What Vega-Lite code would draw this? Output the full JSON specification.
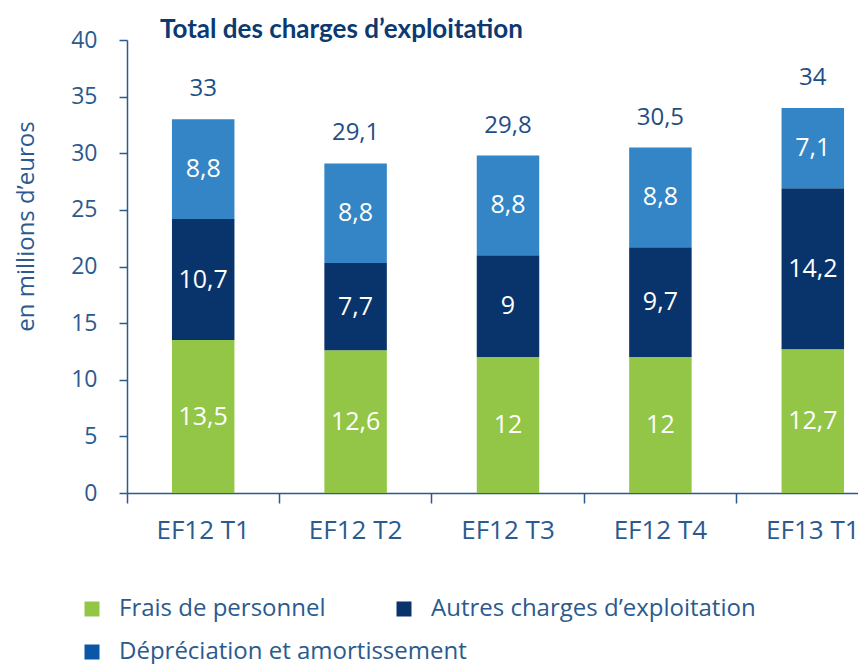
{
  "$schema": "https://vega.github.io/schema/vega-lite/v6.json",
  "width": 731,
  "height": 453,
  "autosize": {"type": "none"},
  "padding": {"left": 127, "top": 40, "right": 0, "bottom": 171},
  "config": {
    "locale": {"number": {"decimal": ",", "thousands": " ", "grouping": [3], "currency": ["", " €"]}},
    "view": {"stroke": null},
    "font": "Open Sans"
  },
  "title": {
    "text": "Total des charges d’exploitation",
    "anchor": "start",
    "frame": "group",
    "dx": 33,
    "dy": 18,
    "offset": 4,
    "font": "Lato",
    "fontSize": 26,
    "fontWeight": "bold",
    "color": "#0b3a72"
  },
  "data": {
    "values": [
      {"periode": "EF12 T1", "cat": "Frais de personnel", "n": 1, "v": 13.5},
      {"periode": "EF12 T1", "cat": "Autres charges d’exploitation", "n": 2, "v": 10.7},
      {"periode": "EF12 T1", "cat": "Dépréciation et amortissement", "n": 3, "v": 8.8},
      {"periode": "EF12 T2", "cat": "Frais de personnel", "n": 1, "v": 12.6},
      {"periode": "EF12 T2", "cat": "Autres charges d’exploitation", "n": 2, "v": 7.7},
      {"periode": "EF12 T2", "cat": "Dépréciation et amortissement", "n": 3, "v": 8.8},
      {"periode": "EF12 T3", "cat": "Frais de personnel", "n": 1, "v": 12},
      {"periode": "EF12 T3", "cat": "Autres charges d’exploitation", "n": 2, "v": 9},
      {"periode": "EF12 T3", "cat": "Dépréciation et amortissement", "n": 3, "v": 8.8},
      {"periode": "EF12 T4", "cat": "Frais de personnel", "n": 1, "v": 12},
      {"periode": "EF12 T4", "cat": "Autres charges d’exploitation", "n": 2, "v": 9.7},
      {"periode": "EF12 T4", "cat": "Dépréciation et amortissement", "n": 3, "v": 8.8},
      {"periode": "EF13 T1", "cat": "Frais de personnel", "n": 1, "v": 12.7},
      {"periode": "EF13 T1", "cat": "Autres charges d’exploitation", "n": 2, "v": 14.2},
      {"periode": "EF13 T1", "cat": "Dépréciation et amortissement", "n": 3, "v": 7.1}
    ]
  },
  "encoding": {
    "x": {
      "field": "periode",
      "type": "nominal",
      "sort": null,
      "scale": {"range": [0, 762], "paddingInner": 0, "paddingOuter": 0},
      "axis": {
        "title": null,
        "labelAngle": 0,
        "labelFontSize": 26,
        "labelColor": "#2b5a8e",
        "labelPadding": 14,
        "bandPosition": 0,
        "tickSize": 10,
        "tickWidth": 1.5,
        "tickColor": "#2b5a8e",
        "domainColor": "#2b5a8e",
        "domainWidth": 1.5
      }
    }
  },
  "layer": [
    {
      "mark": {"type": "bar", "width": {"band": 0.41}},
      "encoding": {
        "y": {
          "field": "v",
          "type": "quantitative",
          "stack": "zero",
          "scale": {"domain": [0, 40], "nice": false},
          "axis": {
            "title": "en millions d’euros",
            "values": [0, 5, 10, 15, 20, 25, 30, 35, 40],
            "grid": false,
            "labelFontSize": 23,
            "labelColor": "#2b5a8e",
            "labelPadding": 22,
            "tickSize": 8,
            "tickWidth": 1.5,
            "tickColor": "#2b5a8e",
            "domainColor": "#2b5a8e",
            "domainWidth": 1.5,
            "titleFontSize": 24,
            "titleFontWeight": "normal",
            "titleColor": "#2b5a8e",
            "titleX": -94,
            "titleY": 186,
            "titleAngle": -90,
            "titleAlign": "center",
            "titleBaseline": "alphabetic"
          }
        },
        "color": {
          "field": "cat",
          "type": "nominal",
          "scale": {
            "domain": ["Frais de personnel", "Autres charges d’exploitation", "Dépréciation et amortissement"],
            "range": ["#93c647", "#08336b", "#3385c6"]
          },
          "legend": {
            "title": null,
            "values": ["Frais de personnel", "Autres charges d’exploitation"],
            "orient": "none",
            "legendX": -47,
            "legendY": 557,
            "direction": "horizontal",
            "symbolType": "square",
            "symbolSize": 225,
            "symbolStrokeWidth": 0,
            "labelFontSize": 24,
            "labelColor": "#2b5a8e",
            "labelLimit": 500,
            "columnPadding": 66,
            "labelOffset": 15
          }
        },
        "order": {"field": "n", "type": "quantitative"}
      }
    },
    {
      "transform": [{"filter": "datum.n == 3"}],
      "mark": {"type": "square", "opacity": 0, "size": 1},
      "encoding": {
        "y": {"aggregate": "sum", "field": "v", "type": "quantitative"},
        "fill": {
          "field": "cat",
          "type": "nominal",
          "scale": {"domain": ["Dépréciation et amortissement"], "range": ["#0b56a6"]},
          "legend": {
            "title": null,
            "orient": "none",
            "legendX": -47,
            "legendY": 600,
            "symbolType": "square",
            "symbolSize": 225,
            "symbolStrokeWidth": 0,
            "symbolOpacity": 1,
            "labelFontSize": 24,
            "labelColor": "#2b5a8e",
            "labelLimit": 500,
            "labelOffset": 15
          }
        }
      }
    },
    {
      "mark": {"type": "text", "color": "white", "fontSize": 25},
      "encoding": {
        "y": {"field": "v", "type": "quantitative", "stack": "zero", "bandPosition": 0.5},
        "detail": {"field": "cat"},
        "order": {"field": "n", "type": "quantitative"},
        "text": {"field": "v", "type": "quantitative", "format": ".1~f"}
      }
    },
    {
      "mark": {"type": "text", "color": "#1f4e86", "fontSize": 24, "dy": -30},
      "encoding": {
        "y": {"aggregate": "sum", "field": "v", "type": "quantitative"},
        "text": {"aggregate": "sum", "field": "v", "type": "quantitative", "format": ".1~f"}
      }
    }
  ]
}
